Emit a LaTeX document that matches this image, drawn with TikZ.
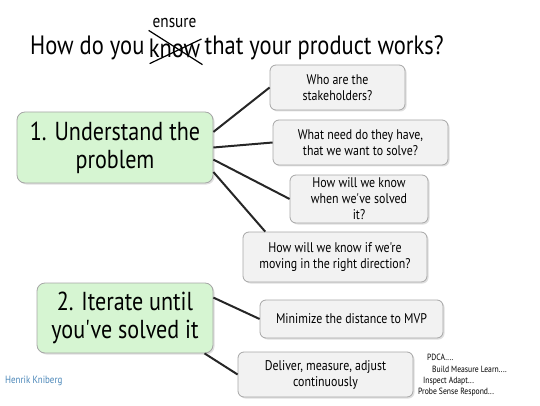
\documentclass[tikz,border=0pt]{standalone}
\usepackage{fontspec}
\newfontfamily\hand[FakeStretch=0.85]{PT Sans}
\usetikzlibrary{positioning, shadows}
\definecolor{boxgreen}{HTML}{D6F5D2}
\definecolor{boxgray}{HTML}{F2F2F2}
\definecolor{signblue}{HTML}{4A86B8}

\tikzset{
  mainbox/.style={draw=gray!70, fill=boxgreen, rounded corners=8pt, line width=0.8pt,
    align=center, inner sep=0pt, font=\hand\fontsize{26}{28}\selectfont,
    drop shadow={shadow xshift=1.5pt, shadow yshift=-1.5pt, opacity=0.25}},
  subbox/.style={draw=gray!70, fill=boxgray, rounded corners=6pt, line width=0.8pt,
    align=center, inner sep=0pt, font=\hand\fontsize{14}{16}\selectfont,
    drop shadow={shadow xshift=1.5pt, shadow yshift=-1.5pt, opacity=0.25}},
  link/.style={line width=2pt, black!85},
  note/.style={anchor=west, inner sep=0pt, font=\hand\fontsize{9}{10}\selectfont},
  titletext/.style={inner sep=2pt, font=\hand\fontsize{26.5}{28}\selectfont}
}

\begin{document}
\begin{tikzpicture}[x=1pt, y=-1pt]
\useasboundingbox (0,0) rectangle (540,406);

% Title with "know" struck out
\node[titletext, anchor=west] (t1) at (28,48) {How do you};
\node[titletext, right=0pt of t1] (know) {know};
\node[titletext, right=0pt of know] (t2) {that your product works?};
\node[font=\hand\fontsize{18}{20}\selectfont, inner sep=0pt] (ensure) at (know.north |- 0,23) {ensure};
\draw[line width=1.2pt] ([shift={(2,-6)}]know.north west) -- ([shift={(0,5)}]know.south east);
\draw[line width=1.2pt] ([shift={(3,4)}]know.south west) -- ([shift={(-1,-9)}]know.east);

% 1. Understand the problem
\node[mainbox, minimum width=196pt, minimum height=71pt] (n1) at (115,147.5) {1. Understand the\\problem};
\node[subbox, minimum width=135pt, minimum height=45pt] (q1) at (337.5,87.5) {Who are the\\stakeholders?};
\node[subbox, minimum width=175pt, minimum height=45pt] (q2) at (360.5,142.5) {What need do they have,\\that we want to solve?};
\node[subbox, minimum width=138pt, minimum height=48pt] (q3) at (359,199) {How will we know\\when we've solved\\it?};
\node[subbox, minimum width=184pt, minimum height=50pt] (q4) at (335,257) {How will we know if we're\\moving in the right direction?};
\draw[link] (n1.9) -- (q1.west);
\draw[link] (n1.0) -- (q2.west);
\draw[link] (n1.-7) -- (q3.west);
\draw[link] (n1.-14) -- (q4.160);

% 2. Iterate until you've solved it
\node[mainbox, minimum width=176pt, minimum height=70pt] (n2) at (125,318) {2. Iterate until\\you've solved it};
\node[subbox, minimum width=183pt, minimum height=38pt] (s1) at (351.5,319) {Minimize the distance to MVP};
\node[subbox, minimum width=175pt, minimum height=45pt] (s2) at (325.5,374.5) {Deliver, measure, adjust\\continuously};
\draw[link] (n2.13) -- (s1.west);
\draw[link] (n2.-24) -- (s2.west);

% side notes
\node[note] (p1) at (427,357) {PDCA....};
\node[note] (p2) at (432,369) {Build Measure Learn....};
\node[note] (p3) at (423,381) {Inspect Adapt...};
\node[note] (p4) at (418,392) {Probe Sense Respond...};

\node[anchor=west, inner sep=0pt, text=signblue, font=\hand\fontsize{10.5}{11}\selectfont] (sign) at (5,381) {Henrik Kniberg};
\end{tikzpicture}
\end{document}
